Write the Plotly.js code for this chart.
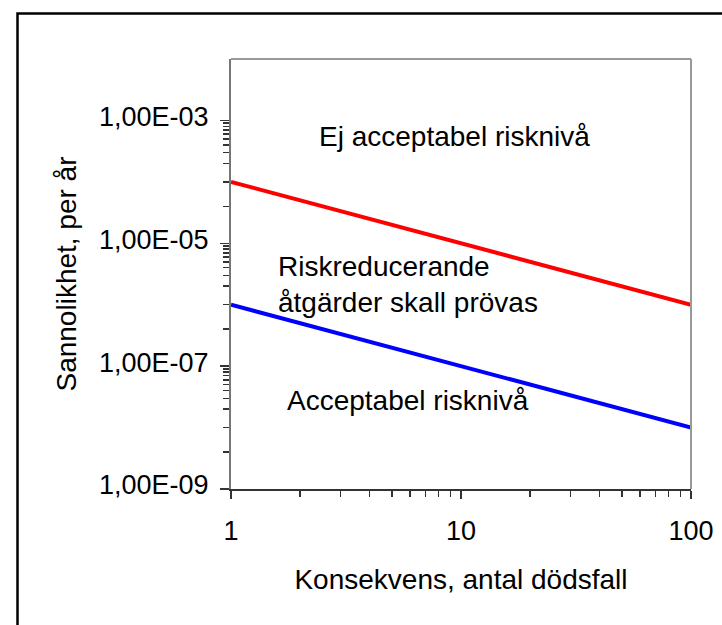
<!DOCTYPE html>
<html>
<head>
<meta charset="utf-8">
<script src="https://cdn.plot.ly/plotly-3.0.1.min.js"></script>
<style>html,body{margin:0;padding:0;background:#fff;}#chart{width:722px;height:625px;}</style>
</head>
<body>
<div id="chart"></div>
<script>
// Data
const consequence = [1, 100];
const upperLimit = [1e-4, 1e-6];   // red: Ej acceptabel gräns
const lowerLimit = [1e-6, 1e-8];   // blue: Acceptabel gräns

// Axis ticks
const xTickVals = [1, 10, 100];
const xTickText = ['1', '10', '100'];
const xMinorVals = [2,3,4,5,6,7,8,9,20,30,40,50,60,70,80,90];
const yTickVals = [1e-9, 1e-7, 1e-5, 1e-3];
const yTickText = ['1,00E-09', '1,00E-07', '1,00E-05', '1,00E-03'];
const yMinorVals = [
  4e-9, 1e-8, 2e-8, 3e-8, 4e-8, 5e-8, 6e-8, 7e-8, 8e-8, 9e-8,
  4e-7, 1e-6, 2e-6, 3e-6, 4e-6, 5e-6, 6e-6, 7e-6, 8e-6, 9e-6,
  4e-5, 1e-4, 2e-4, 3e-4, 4e-4, 5e-4, 6e-4, 7e-4, 8e-4, 9e-4
];

// Region labels
const regionLabels = [
  'Ej acceptabel risknivå',
  'Riskreducerande<br>åtgärder skall prövas',
  'Acceptabel risknivå'
];

const FONT = 'Liberation Sans, Arial, sans-serif';
const FS = 28;     // titles and labels
const TFS = 27;    // tick labels

// pixel -> paper helpers (plot area 231..691 x, 59..489 y)
const L = 231, T = 59, W = 460, H = 430;
const px = x => (x - L) / W;
const py = y => (T + H - y) / H;

const traces = [
  {x: consequence, y: upperLimit, mode: 'lines', line: {color: '#ff0000', width: 4}, hoverinfo: 'skip'},
  {x: consequence, y: lowerLimit, mode: 'lines', line: {color: '#0000ff', width: 4}, hoverinfo: 'skip'}
];

const layout = {
  width: 722, height: 625,
  margin: {l: L, r: 722 - L - W, t: T, b: 625 - T - H, pad: 0},
  paper_bgcolor: '#ffffff', plot_bgcolor: '#ffffff',
  showlegend: false,
  font: {family: FONT, size: FS, color: '#000'},
  xaxis: {
    type: 'log', range: [0, 2],
    tickmode: 'array', tickvals: xTickVals, ticktext: xTickText,
    ticks: 'outside', ticklen: 8, tickwidth: 1.5, tickcolor: '#333',
    showline: true, linecolor: '#333', linewidth: 2,
    showgrid: false, zeroline: false,
    tickfont: {family: FONT, size: TFS, color: '#000'},
    ticklabelstandoff: 9,
    minor: {tickmode: 'array', tickvals: xMinorVals, ticks: 'outside', ticklen: 6, tickwidth: 1.5, tickcolor: '#333', showgrid: false},
    title: {text: 'Konsekvens, antal dödsfall', font: {family: FONT, size: FS, color: '#000'}, standoff: 24},
    automargin: false
  },
  yaxis: {
    type: 'log', range: [-9, -2],
    tickmode: 'array', tickvals: yTickVals, ticktext: yTickText,
    ticks: 'outside', ticklen: 9, tickwidth: 1.5, tickcolor: '#333',
    showline: true, linecolor: '#777', linewidth: 2,
    showgrid: false, zeroline: false,
    tickfont: {family: FONT, size: TFS, color: '#000'},
    ticklabelstandoff: 6,
    ticklabelshift: -4,
    minor: {tickmode: 'array', tickvals: yMinorVals, ticks: 'outside', ticklen: 6, tickwidth: 1.5, tickcolor: '#333', showgrid: false},
    title: {text: 'Sannolikhet, per år', font: {family: FONT, size: FS, color: '#000'}, standoff: 14},
    automargin: false
  },
  shapes: [
    // top and right frame lines (light gray)
    {type: 'line', xref: 'paper', yref: 'paper', x0: 0, x1: 1, y0: 1, y1: 1, line: {color: '#999', width: 2}},
    {type: 'line', xref: 'paper', yref: 'paper', x0: 1, x1: 1, y0: 0, y1: 1, line: {color: '#999', width: 2}},
    // outer chart border (extends beyond the window on right/bottom)
    {type: 'rect', xref: 'paper', yref: 'paper', x0: px(17.5), x1: px(760), y0: py(660), y1: py(13.5), line: {color: '#000', width: 2.5}, layer: 'above'}
  ],
  annotations: [
    {text: regionLabels[0], xref: 'paper', yref: 'paper', x: px(454), y: py(136), xanchor: 'center', yanchor: 'middle', showarrow: false, font: {family: FONT, size: FS, color: '#000'}},
    {text: regionLabels[1], xref: 'paper', yref: 'paper', x: px(276), y: py(284), xanchor: 'left', yanchor: 'middle', align: 'left', showarrow: false, font: {family: FONT, size: FS, color: '#000'}},
    {text: regionLabels[2], xref: 'paper', yref: 'paper', x: px(408), y: py(400), xanchor: 'center', yanchor: 'middle', showarrow: false, font: {family: FONT, size: FS, color: '#000'}}
  ]
};

Plotly.newPlot('chart', traces, layout, {staticPlot: true, displayModeBar: false});
</script>
</body>
</html>
